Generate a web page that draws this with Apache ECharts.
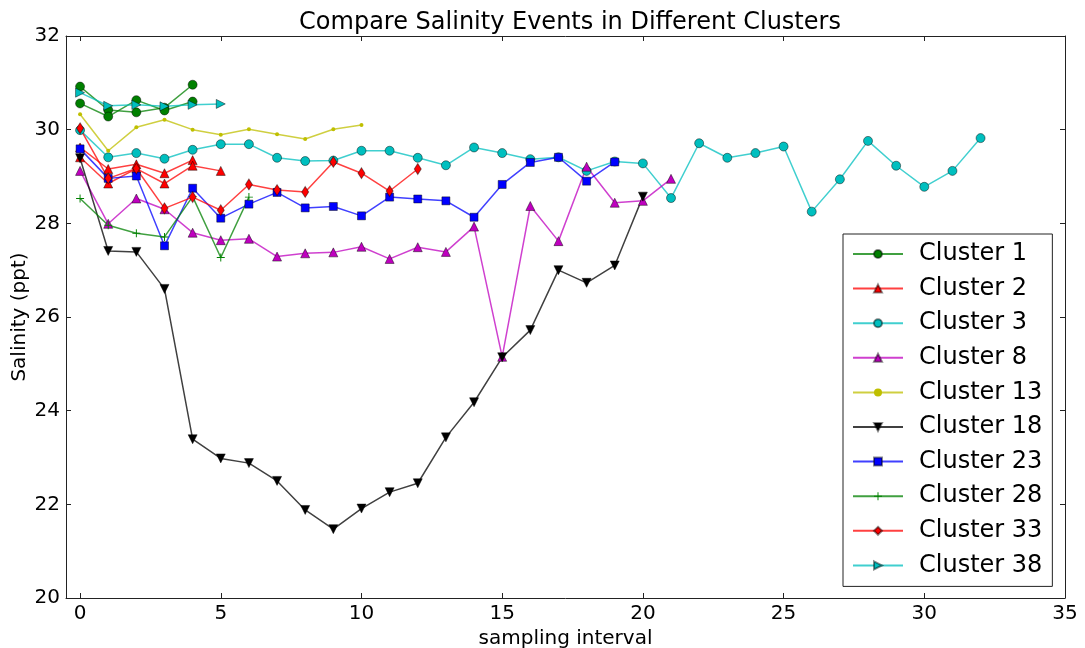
<!DOCTYPE html>
<html>
<head>
<meta charset="utf-8">
<title>Compare Salinity Events in Different Clusters</title>
<script src="https://cdn.jsdelivr.net/npm/echarts@6/dist/echarts.min.js"></script>
<style>
  html, body { margin: 0; padding: 0; background: #fff; }
  #chart { width: 1085px; height: 648px; }
</style>
</head>
<body>
<div id="chart"></div>
<script>
// Salinity (ppt) per sampling interval; each array is one event, starting at interval 0.
const cluster1a = [30.92, 30.42, 30.37, 30.47, 30.96];
const cluster1b = [30.56, 30.28, 30.63, 30.41, 30.60];
const cluster2a = [29.62, 29.16, 29.26, 29.07, 29.35];
const cluster2b = [29.41, 28.85, 29.17, 28.85, 29.23, 29.12];
const cluster3 = [29.99, 29.41, 29.50, 29.38, 29.57, 29.69, 29.69, 29.40, 29.33, 29.34,
                  29.55, 29.55, 29.40, 29.24, 29.62, 29.50, 29.37, 29.41, 29.12, 29.32,
                  29.28, 28.54, 29.71, 29.40, 29.50, 29.64, 28.25, 28.94, 29.76, 29.23,
                  28.78, 29.12, 29.82];
const cluster8 = [29.12, 27.99, 28.53, 28.30, 27.80, 27.64, 27.67, 27.29, 27.36, 27.38,
                  27.50, 27.24, 27.49, 27.39, 27.93, 25.15, 28.37, 27.62, 29.21, 28.44,
                  28.48, 28.95];
const cluster13 = [30.33, 29.55, 30.05, 30.21, 30.00, 29.89, 30.01, 29.90, 29.80, 30.01, 30.10];
const cluster18 = [29.39, 27.41, 27.39, 26.60, 23.39, 22.98, 22.88, 22.50, 21.88, 21.47,
                   21.91, 22.26, 22.45, 23.43, 24.18, 25.14, 25.72, 27.00, 26.73, 27.10, 28.57];
const cluster23 = [29.59, 28.96, 29.01, 27.52, 28.75, 28.11, 28.41, 28.66, 28.33, 28.36,
                   28.16, 28.56, 28.52, 28.48, 28.13, 28.83, 29.30, 29.41, 28.90, 29.31];
const cluster28 = [28.53, 27.96, 27.79, 27.71, 28.57, 27.27, 28.56];
const cluster33 = [30.03, 28.96, 29.17, 28.32, 28.56, 28.28, 28.83, 28.71, 28.67, 29.31,
                   29.07, 28.69, 29.16];
const cluster38 = [30.79, 30.51, 30.53, 30.50, 30.53, 30.55];

const xTicks = [0, 5, 10, 15, 20, 25, 30, 35];
const yTicks = [20, 22, 24, 26, 28, 30, 32];
const legendNames = ['Cluster 1', 'Cluster 2', 'Cluster 3', 'Cluster 8', 'Cluster 13',
                     'Cluster 18', 'Cluster 23', 'Cluster 28', 'Cluster 33', 'Cluster 38'];

// marker shapes
const TRI_DOWN = 'path://M0,0 L10,0 L5,10 Z';
const TRI_RIGHT = 'path://M0,0 L10,5 L0,10 Z';
const PLUS = 'path://M4.4,0 H5.6 V4.4 H10 V5.6 H5.6 V10 H4.4 V5.6 H0 V4.4 H4.4 Z';

const FONT = 'DejaVu Sans';

function toPoints(values) {
  return values.map((v, i) => [i, v]);
}

function makeSeries(name, values, color, symbol, size, opts) {
  opts = opts || {};
  return {
    name: name,
    type: 'line',
    data: toPoints(values),
    symbol: symbol,
    symbolSize: size,
    showAllSymbol: true,
    animation: false,
    lineStyle: { color: color, width: 1.5, opacity: 0.75 },
    itemStyle: {
      color: color,
      borderColor: opts.border === false ? color : 'rgba(0,0,0,0.45)',
      borderWidth: opts.border === false ? 0 : 1
    },
    emphasis: { disabled: true },
    z: 2
  };
}

const G = '#008000', R = '#ff0000', C = '#00bfbf', M = '#bf00bf', Y = '#bfbf00', K = '#000000', B = '#0000ff';

const series = [
  makeSeries('Cluster 1', cluster1a, G, 'circle', 9),
  makeSeries('Cluster 1', cluster1b, G, 'circle', 9),
  makeSeries('Cluster 2', cluster2a, R, 'triangle', 9),
  makeSeries('Cluster 2', cluster2b, R, 'triangle', 9),
  makeSeries('Cluster 3', cluster3, C, 'circle', 9),
  makeSeries('Cluster 8', cluster8, M, 'triangle', 9),
  makeSeries('Cluster 13', cluster13, Y, 'circle', 4, { border: false }),
  makeSeries('Cluster 18', cluster18, K, TRI_DOWN, 9),
  makeSeries('Cluster 23', cluster23, B, 'rect', 8),
  makeSeries('Cluster 28', cluster28, G, PLUS, 8, { border: false }),
  makeSeries('Cluster 33', cluster33, R, 'diamond', [7, 11]),
  makeSeries('Cluster 38', cluster38, C, TRI_RIGHT, 9)
];

const axisLine = { show: true, onZero: false, lineStyle: { color: '#222', width: 1 } };
const tickStyle = { color: '#222', width: 1 };

const chart = echarts.init(document.getElementById('chart'), null, { renderer: 'canvas' });
chart.setOption({
  backgroundColor: '#ffffff',
  animation: false,
  textStyle: { fontFamily: FONT },
  title: {
    text: 'Compare Salinity Events in Different Clusters',
    left: 565,
    textAlign: 'center',
    top: 6,
    textStyle: { fontFamily: FONT, fontSize: 24, fontWeight: 'normal', color: '#000' }
  },
  grid: { left: 66, right: 20, top: 36, bottom: 50, containLabel: false, outerBoundsMode: 'none' },
  legend: {
    data: legendNames,
    orient: 'vertical',
    left: 843,
    top: 234,
    backgroundColor: '#fff',
    borderColor: '#222',
    borderWidth: 1,
    borderRadius: 0,
    padding: [8, 10, 9, 9],
    itemWidth: 50,
    itemHeight: 10,
    itemGap: 10.6,
    selectedMode: false,
    textStyle: { fontFamily: FONT, fontSize: 24, color: '#000', lineHeight: 24, padding: [0, 0, 0, 11] }
  },
  xAxis: [
    {
      type: 'value', min: -0.5, max: 35,
      name: 'sampling interval', nameLocation: 'middle', nameGap: 30,
      nameTextStyle: { fontFamily: FONT, fontSize: 20, color: '#000' },
      axisLine: axisLine,
      axisTick: { show: true, inside: true, length: 5, lineStyle: tickStyle, customValues: xTicks },
      axisLabel: { show: true, fontFamily: FONT, fontSize: 20, color: '#000', margin: 6, customValues: xTicks },
      splitLine: { show: false }
    },
    {
      type: 'value', min: -0.5, max: 35, position: 'top',
      axisLine: axisLine,
      axisTick: { show: true, inside: true, length: 5, lineStyle: tickStyle, customValues: xTicks },
      axisLabel: { show: false },
      splitLine: { show: false }
    }
  ],
  yAxis: [
    {
      type: 'value', min: 20, max: 32, interval: 2,
      name: 'Salinity (ppt)', nameLocation: 'middle', nameGap: 36, nameMoveOverlap: false,
      nameTextStyle: { fontFamily: FONT, fontSize: 20, color: '#000' },
      axisLine: axisLine,
      axisTick: { show: true, inside: true, length: 5, lineStyle: tickStyle, customValues: yTicks },
      axisLabel: { show: true, fontFamily: FONT, fontSize: 20, color: '#000', margin: 6, customValues: yTicks },
      splitLine: { show: false }
    },
    {
      type: 'value', min: 20, max: 32, interval: 2, position: 'right',
      axisLine: axisLine,
      axisTick: { show: true, inside: true, length: 5, lineStyle: tickStyle, customValues: yTicks },
      axisLabel: { show: false },
      splitLine: { show: false }
    }
  ],
  series: series
});
</script>
</body>
</html>
